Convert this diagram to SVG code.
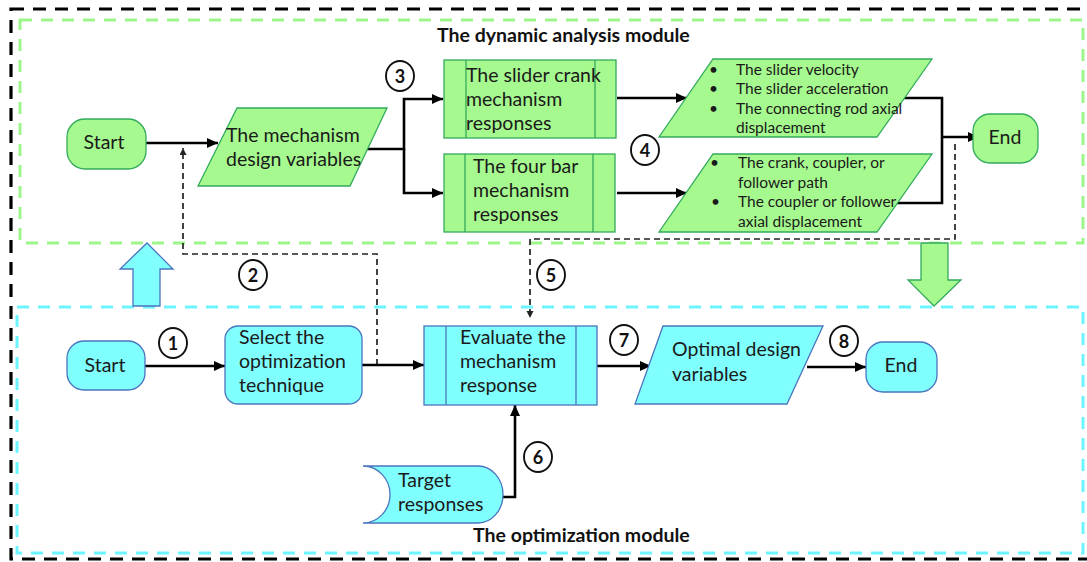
<svg xmlns="http://www.w3.org/2000/svg" width="1087" height="562" viewBox="0 0 1087 562">
<defs>
<style>
.t{font-family:Lato,"Liberation Sans",sans-serif;font-size:19.5px;fill:#1a1a1a}
.s{font-family:Lato,"Liberation Sans",sans-serif;font-size:15.5px;fill:#1a1a1a}
.h{font-family:Lato,"Liberation Sans",sans-serif;font-size:19.5px;font-weight:bold;fill:#111}
.n{font-family:Lato,"Liberation Sans",sans-serif;font-size:18px;font-weight:bold;fill:#111;text-anchor:middle}
.g{fill:#A6F98F;stroke:#33AA5C;stroke-width:1.3}
.c{fill:#80FFFF;stroke:#4B74BE;stroke-width:1.3}
.ln{fill:none;stroke:#000;stroke-width:2.6}
.dl{fill:none;stroke:#222;stroke-width:1.7;stroke-dasharray:6 4}
.circ{fill:#fff;stroke:#111;stroke-width:1.9}
</style>
<marker id="ah" markerUnits="userSpaceOnUse" markerWidth="12" markerHeight="10" refX="11" refY="5" orient="auto"><path d="M0,0 L11,5 L0,10 z" fill="#000"/></marker>
<marker id="ahs" markerUnits="userSpaceOnUse" markerWidth="8" markerHeight="8" refX="7" refY="3.5" orient="auto"><path d="M0,0 L7,3.5 L0,7 z" fill="#222"/></marker>
</defs>
<rect x="0" y="0" width="1087" height="562" fill="#fff"/>
<g id="frames">
<rect x="11" y="9" width="1090" height="550" fill="none" stroke="#000" stroke-width="3.2" stroke-dasharray="13 9"/>
<rect x="20" y="20" width="1063" height="223" fill="none" stroke="#9EF58A" stroke-width="3" stroke-dasharray="12 9"/>
<rect x="17" y="307" width="1066" height="246" fill="none" stroke="#6CF5FF" stroke-width="3" stroke-dasharray="12 9"/>
</g>
<g id="titles">
<text class="h" x="437" y="42">The dynamic analysis module</text>
<text class="h" x="473" y="542">The optimization module</text>
</g>
<g id="block-arrows">
<polygon class="c" points="147,243 173,269 160,269 160,306 133,306 133,269 120,269"/>
<polygon class="g" points="921,243 948,243 948,280 961,280 934,306 908,280 921,280"/>
</g>
<g id="connectors">
<path class="ln" d="M146,143 H218" marker-end="url(#ah)"/>
<path class="ln" d="M363,149 H404 V99 H443" marker-end="url(#ah)"/>
<path class="ln" d="M404,149 V193 H443" marker-end="url(#ah)"/>
<path class="ln" d="M617,98 H687" marker-end="url(#ah)"/>
<path class="ln" d="M617,193 H687" marker-end="url(#ah)"/>
<path class="ln" d="M902,98 H942 V203 H896"/>
<path class="ln" d="M942,137 H979" marker-end="url(#ah)"/>
<path class="dl" d="M377,365 V254 H183 V148" marker-end="url(#ahs)"/>
<path class="dl" d="M955,144 V239 H530 V318" marker-end="url(#ahs)"/>
<path class="ln" d="M145,366 H225" marker-end="url(#ah)"/>
<path class="ln" d="M362,365 H424" marker-end="url(#ah)"/>
<path class="ln" d="M597,366 H651" marker-end="url(#ah)"/>
<path class="ln" d="M807,367 H866" marker-end="url(#ah)"/>
<path class="ln" d="M502,497 H515 V405" marker-end="url(#ah)"/>
</g>
<g id="start-dyn">
<rect class="g" x="67" y="119" width="79" height="50" rx="18"/>
<text class="t" x="104" y="149" text-anchor="middle">Start</text>
</g>
<g id="design-vars">
<polygon class="g" points="237,108 387,108 350,186 198,186"/>
<text class="t" x="226" y="142">The mechanism</text>
<text class="t" x="226" y="166">design variables</text>
</g>
<g id="slider-crank">
<rect class="g" x="444" y="60" width="172" height="78"/>
<line x1="466" y1="60" x2="466" y2="138" stroke="#33AA5C" stroke-width="1.3"/>
<line x1="595" y1="60" x2="595" y2="138" stroke="#33AA5C" stroke-width="1.3"/>
<text class="t" x="466" y="82">The slider crank</text>
<text class="t" x="466" y="106">mechanism</text>
<text class="t" x="466" y="130">responses</text>
</g>
<g id="four-bar">
<rect class="g" x="444" y="154" width="171" height="78"/>
<line x1="465" y1="154" x2="465" y2="232" stroke="#33AA5C" stroke-width="1.3"/>
<line x1="593" y1="154" x2="593" y2="232" stroke="#33AA5C" stroke-width="1.3"/>
<text class="t" x="473" y="173">The four bar</text>
<text class="t" x="473" y="197">mechanism</text>
<text class="t" x="473" y="221">responses</text>
</g>
<g id="slider-outputs">
<polygon class="g" points="713,59 932,59 877,137 659,137"/>
<text class="s" x="709" y="75">•</text><text class="s" x="736" y="75">The slider velocity</text>
<text class="s" x="709" y="94">•</text><text class="s" x="736" y="94">The slider acceleration</text>
<text class="s" x="709" y="114">•</text><text class="s" x="736" y="114">The connecting rod axial</text>
<text class="s" x="736" y="133">displacement</text>
</g>
<g id="fourbar-outputs">
<polygon class="g" points="713,154 932,154 877,232 659,232"/>
<text class="s" x="710" y="168">•</text><text class="s" x="738" y="168">The crank, coupler, or</text>
<text class="s" x="738" y="188">follower path</text>
<text class="s" x="711" y="207">•</text><text class="s" x="738" y="207">The coupler or follower</text>
<text class="s" x="738" y="227">axial displacement</text>
</g>
<g id="end-dyn">
<rect class="g" x="973" y="114" width="65" height="49" rx="17"/>
<text class="t" x="1005" y="144" text-anchor="middle">End</text>
</g>
<g id="start-opt">
<rect class="c" x="67" y="341" width="78" height="49" rx="17"/>
<text class="t" x="105" y="372" text-anchor="middle">Start</text>
</g>
<g id="select-technique">
<rect class="c" x="225" y="326" width="137" height="78" rx="13"/>
<text class="t" x="239" y="344">Select the</text>
<text class="t" x="239" y="368">optimization</text>
<text class="t" x="239" y="392">technique</text>
</g>
<g id="evaluate">
<rect class="c" x="424" y="326" width="173" height="79"/>
<line x1="446" y1="326" x2="446" y2="405" stroke="#4B74BE" stroke-width="1.3"/>
<line x1="576" y1="326" x2="576" y2="405" stroke="#4B74BE" stroke-width="1.3"/>
<text class="t" x="460" y="344">Evaluate the</text>
<text class="t" x="460" y="368">mechanism</text>
<text class="t" x="460" y="392">response</text>
</g>
<g id="optimal-vars">
<polygon class="c" points="663,326 823,326 787,404 635,404"/>
<text class="t" x="672" y="356">Optimal design</text>
<text class="t" x="672" y="381">variables</text>
</g>
<g id="end-opt">
<rect class="c" x="866" y="342" width="71" height="50" rx="17"/>
<text class="t" x="901" y="372" text-anchor="middle">End</text>
</g>
<g id="target">
<path class="c" d="M363,466 H478 A25,28.5 0 0 1 478,523 H363 A27,28.5 0 0 0 363,466 Z"/>
<text class="t" x="398" y="487">Target</text>
<text class="t" x="398" y="511">responses</text>
</g>
<g id="step-numbers">
<ellipse class="circ" cx="173" cy="343" rx="14" ry="15"/><text class="n" x="173" y="350">1</text>
<ellipse class="circ" cx="253" cy="275" rx="14" ry="15"/><text class="n" x="253" y="282">2</text>
<ellipse class="circ" cx="400" cy="76" rx="14" ry="15"/><text class="n" x="400" y="83">3</text>
<ellipse class="circ" cx="645" cy="150" rx="14" ry="15"/><text class="n" x="645" y="157">4</text>
<ellipse class="circ" cx="551" cy="275" rx="14" ry="15"/><text class="n" x="551" y="282">5</text>
<ellipse class="circ" cx="538" cy="457" rx="14" ry="15"/><text class="n" x="538" y="464">6</text>
<ellipse class="circ" cx="624" cy="340" rx="14" ry="15"/><text class="n" x="624" y="347">7</text>
<ellipse class="circ" cx="844" cy="341" rx="14" ry="15"/><text class="n" x="844" y="348">8</text>
</g>
</svg>
